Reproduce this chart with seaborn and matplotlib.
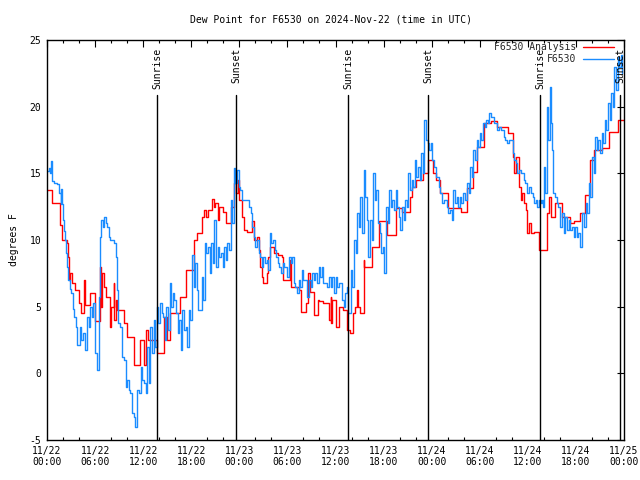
import matplotlib
matplotlib.use("Agg")
import matplotlib.pyplot as plt
import seaborn as sns
import pandas as pd
import numpy as np

# ---------------- data (hours since 2024-11-22 00:00 UTC) ----------------
obs_hours = [0.0, 0.2, 0.4, 0.5, 0.6, 0.9, 1.25, 1.5, 1.7, 1.8, 1.9, 2.0, 2.1, 2.25, 2.4, 2.5, 2.6, 2.75, 2.85,
             3.0, 3.2, 3.4, 3.6, 3.75, 4.1, 4.3, 4.5, 4.7, 5.0, 5.2, 5.4, 5.6, 5.8, 6.05, 6.25, 6.55, 6.65, 6.8,
             7.0, 7.1, 7.3, 7.5, 7.7, 7.9, 8.3, 8.6, 8.75, 8.9, 9.15, 9.35, 9.6, 9.8, 10.0, 10.2, 10.4, 10.6,
             10.8, 11.0, 11.25, 11.5, 11.7, 11.9, 12.1, 12.3,
             12.5, 12.7, 12.9, 13.1, 13.3, 13.5, 13.7, 13.9, 14.1, 14.3, 14.5, 14.7, 14.9, 15.1, 15.3, 15.5,
             15.7, 15.9, 16.1, 16.3, 16.5, 16.7, 16.9, 17.1, 17.3, 17.5, 17.7, 17.9, 18.1, 18.3, 18.5, 18.7,
             18.9, 19.3, 19.5, 19.7, 19.9, 20.1, 20.3, 20.5, 20.7, 20.9, 21.1, 21.3, 21.5, 21.7, 21.9, 22.1,
             22.3, 22.5, 22.7, 22.9, 23.1, 23.3, 23.5, 23.7, 23.9, 24.1, 24.3,
             25.0, 25.2, 25.4, 25.6, 25.8, 26.0, 26.2, 26.4, 26.6, 26.8, 27.0, 27.2, 27.4, 27.6, 27.8, 28.0,
             28.2, 28.4, 28.6, 28.8, 29.0, 29.2, 29.4, 29.6, 29.8, 30.0, 30.2, 30.4, 30.6, 30.8, 31.0, 31.2,
             31.4, 31.6, 31.8, 32.0, 32.2, 32.4, 32.7, 32.9, 33.1, 33.3, 33.5, 33.7, 33.9, 34.1, 34.3, 34.5,
             34.7, 34.9, 35.2, 35.4, 35.6, 35.8, 36.0, 36.2, 36.4, 36.8, 37.0,
             37.2, 37.45, 37.6, 37.9, 38.1, 38.3, 38.5, 38.7, 38.9, 39.1, 39.3, 39.5, 39.7, 39.9, 40.1, 40.3,
             40.5, 40.7, 40.9, 41.1, 41.3, 41.5, 41.7, 41.9, 42.1, 42.3, 42.5, 42.7, 42.9, 43.1, 43.3, 43.5,
             43.7, 43.9, 44.1, 44.3, 44.5, 44.7, 44.9, 45.1, 45.3, 45.5, 45.7, 45.9, 46.1, 46.3, 46.5, 46.7,
             46.9, 47.1, 47.3, 47.5, 47.7, 47.9, 48.1, 48.3, 48.5, 48.7, 48.9, 49.1, 49.3,
             49.6, 49.9, 50.1, 50.3, 50.5, 50.7, 50.9, 51.1, 51.3, 51.5, 51.7, 51.9, 52.2, 52.4, 52.6, 52.8,
             53.0, 53.2, 53.4, 53.6, 53.8, 54.0, 54.2, 54.4, 54.6, 54.8, 55.0, 55.2, 55.4, 55.6, 55.8, 56.0,
             56.2, 56.4, 56.6, 56.8, 57.0, 57.2, 57.4, 57.7, 58.1, 58.3, 58.5, 58.7, 58.9, 59.1, 59.3, 59.5,
             59.7, 59.9, 60.2, 60.4, 60.6, 60.8, 61.0, 61.2, 61.4, 61.6,
             61.8, 61.95, 62.0, 62.2, 62.35, 62.5, 62.8, 62.9, 63.0, 63.2, 63.4, 63.6, 63.8, 64.0, 64.3, 64.5,
             64.7, 64.9, 65.1, 65.3, 65.5, 65.7, 65.9, 66.1, 66.3, 66.5, 66.8, 67.0, 67.2, 67.4, 67.6, 67.8,
             68.0, 68.2, 68.4, 68.6, 68.8, 69.0, 69.2, 69.4, 69.6, 69.8, 70.0, 70.2, 70.4, 70.6, 70.8, 71.0,
             71.2, 71.4, 71.6, 71.8]
obs_dewpt = [15.2, 15.4, 15.0, 15.9, 14.4, 14.3, 14.2, 13.5, 12.7, 13.8, 12.7, 11.5, 10.7, 10.0, 9.0, 8.0, 7.0, 7.0, 6.3,
             6.0, 4.8, 4.2, 3.5, 2.1, 3.5, 2.5, 3.0, 1.75, 4.2, 3.5, 5.0, 4.2, 5.25, 1.5, 0.25, 5.75, 10.25, 11.5,
             11.0, 11.75, 11.25, 11.0, 10.25, 10.0, 9.75, 8.75, 6.25, 3.75, 3.5, 1.25, 1.0, -1.0, -0.5, -1.25, -1.5, -3.0,
             -3.25, -4.0, -1.25, -1.5, 0.5, -0.5, -0.75, -1.5,
             2.0, -0.75, 3.5, 1.5, 4.0, 2.0, 5.0, 3.75, 5.25, 4.5, 4.25, 2.5, 5.0, 3.25, 6.75, 5.0,
             6.0, 5.5, 4.5, 3.0, 4.0, 1.75, 4.75, 3.25, 3.5, 2.0, 4.75, 4.0, 8.9, 6.5, 8.25, 6.25,
             4.75, 7.25, 5.5, 9.75, 9.0, 9.5, 7.5, 9.75, 8.25, 11.5, 8.0, 9.5, 8.75, 9.0, 8.0, 9.5,
             8.5, 9.75, 9.25, 13.0, 11.25, 15.4, 14.25, 15.25, 14.0, 13.75, 13.0,
             13.0, 12.5, 12.0, 11.0, 10.25, 9.5, 10.0, 9.0, 8.75, 8.0, 8.75, 8.25, 8.5, 7.75, 10.5, 9.75,
             10.0, 9.25, 8.75, 8.25, 8.0, 7.5, 8.25, 8.0, 8.0, 7.25, 8.75, 8.25, 8.75, 6.75, 6.5, 6.0,
             7.0, 6.5, 7.75, 7.0, 7.0, 5.75, 7.0, 6.5, 7.5, 7.0, 7.5, 6.75, 8.0, 7.25, 8.0, 6.75,
             6.75, 6.5, 7.25, 6.5, 7.25, 6.0, 7.25, 6.5, 6.75, 5.5, 5.0,
             6.0, 6.5, 4.5, 7.75, 6.5, 10.0, 9.0, 12.0, 11.0, 13.25, 10.5, 15.25, 13.25, 11.5, 8.75, 11.5,
             10.0, 15.0, 13.0, 13.75, 11.25, 10.5, 9.0, 9.5, 7.5, 12.5, 11.25, 13.75, 12.5, 13.0, 12.25, 13.75,
             12.5, 11.75, 10.75, 12.5, 11.5, 13.0, 12.5, 15.0, 13.75, 14.5, 14.0, 16.0, 14.75, 15.5, 14.5, 16.5,
             15.0, 19.0, 17.5, 17.25, 16.75, 17.25, 16.0, 15.5, 14.75, 14.75, 14.0, 13.5, 12.75,
             13.0, 12.5, 12.0, 12.25, 11.5, 13.75, 12.75, 13.25, 12.5, 13.25, 12.75, 13.5, 13.0, 14.25, 13.5, 15.5,
             14.75, 16.75, 16.0, 17.5, 17.0, 18.0, 17.5, 18.75, 18.5, 19.0, 18.75, 19.5, 19.25, 19.25, 18.75, 18.75,
             18.25, 18.5, 18.25, 18.25, 17.75, 17.5, 17.25, 17.5, 16.5, 16.0, 15.75, 15.0, 15.25, 15.0, 15.0, 14.5,
             14.25, 13.5, 14.0, 13.5, 13.25, 12.75, 13.0, 12.5, 13.0, 12.75,
             13.0, 12.5, 15.5, 13.5, 20.0, 17.5, 21.5, 18.75, 16.75, 13.5, 13.25, 12.75, 12.5, 11.0, 12.0, 10.5,
             11.75, 10.75, 11.5, 10.75, 11.0, 10.25, 11.0, 10.25, 10.5, 9.5, 12.0, 11.0, 12.75, 12.0, 14.25, 13.25,
             16.25, 15.0, 17.75, 16.75, 17.5, 16.5, 18.0, 17.25, 19.0, 18.25, 20.25, 19.0, 21.0, 20.0, 23.0, 21.25,
             23.75, 23.0, 23.9, 22.5]

ana_hours = [0.0, 0.6, 1.65, 1.85, 2.5, 2.6, 2.7, 2.8, 2.9, 3.1, 3.5, 3.95, 4.2, 4.6, 4.7, 5.4, 6.05, 6.65,
             6.8, 6.9, 7.1, 7.4, 7.9, 8.0, 8.3, 8.4, 8.6, 8.75, 9.6, 10.0, 10.85, 11.65, 12.1, 12.4, 12.6,
             13.7, 14.6, 14.95, 15.4, 16.6, 17.4, 18.3, 18.7, 19.3, 19.6, 19.9, 20.1, 20.6, 20.8, 21.0, 21.3,
             21.5, 22.0, 22.3, 23.0, 23.3, 23.6, 23.8, 24.0, 24.3, 24.6, 25.0, 25.6, 25.8, 26.2, 26.5, 26.6,
             26.8, 27.0, 27.45, 27.6, 27.8, 28.3, 28.8, 29.3, 29.5, 30.3, 30.4, 31.4, 31.7, 32.3, 32.6, 32.8,
             33.3, 33.8, 34.0, 34.5, 35.2, 35.4, 35.5, 35.6, 36.1, 36.4, 36.9, 37.4, 37.8, 38.2, 38.4, 38.7,
             38.8, 39.1, 39.5, 39.6, 40.4, 40.6, 41.4, 42.4, 43.5, 44.3, 45.3, 45.6, 46.1, 46.9, 47.6, 48.2,
             48.6, 49.0, 49.8, 50.1, 51.6, 52.4, 53.2, 53.7, 54.5, 55.4, 56.1, 57.5, 58.2, 58.3, 58.5, 58.9,
             59.1, 59.3, 59.5, 59.8, 59.95, 60.2, 60.4, 60.8, 61.4, 62.4, 62.6, 62.9, 63.4, 64.3, 65.3, 65.7,
             66.5, 67.1, 67.7, 68.3, 69.3, 70.1, 71.3, 72.0]
ana_dewpt = [13.75, 12.75, 11.1, 10.0, 9.75, 8.75, 8.0, 7.0, 7.5, 6.75, 6.25, 5.25, 4.5, 7.0, 5.1, 6.0, 3.9, 8.0,
             5.0, 7.5, 6.5, 5.75, 3.5, 5.0, 6.8, 4.0, 5.5, 4.75, 3.75, 2.75, 0.6, 2.5, 0.6, 3.25, 2.5,
             1.5, 4.25, 2.5, 4.5, 5.75, 7.75, 10.0, 10.5, 11.75, 12.25, 11.75, 12.25, 13.1, 12.5, 12.75, 11.5,
             12.5, 12.1, 11.25, 12.5, 14.25, 13.5, 14.5, 13.0, 11.75, 10.75, 10.6, 11.4, 10.0, 10.25, 9.25, 8.0,
             7.25, 6.75, 7.5, 8.75, 9.5, 9.0, 8.9, 8.75, 7.0, 8.5, 6.5, 6.25, 4.6, 5.25, 7.5, 6.1,
             4.4, 5.5, 5.4, 5.25, 4.0, 5.75, 3.75, 5.5, 3.5, 5.0, 4.75, 3.25, 3.0, 4.5, 5.0, 6.25,
             5.0, 4.5, 8.5, 8.0, 8.0, 9.5, 11.4, 10.4, 12.4, 12.1, 13.25, 14.0, 14.5, 15.0, 16.0, 15.0,
             14.5, 13.5, 13.5, 12.4, 12.1, 13.9, 15.1, 17.0, 18.75, 18.9, 18.5, 18.0, 16.25, 15.0, 16.25, 14.0,
             13.0, 13.5, 12.75, 12.25, 10.5, 11.25, 10.5, 10.6, 9.25, 12.0, 13.25, 11.75, 12.75, 11.75, 11.25, 11.4,
             12.0, 13.4, 16.0, 16.75, 16.9, 18.1, 19.0, 19.0]

sun_hours = [13.73, 23.6, 37.6, 47.56, 61.55, 71.5]
sun_labels = ["Sunrise", "Sunset", "Sunrise", "Sunset", "Sunrise", "Sunset"]

tick_hours = list(range(0, 73, 6))
tick_labels = ["11/22\n00:00", "11/22\n06:00", "11/22\n12:00", "11/22\n18:00",
               "11/23\n00:00", "11/23\n06:00", "11/23\n12:00", "11/23\n18:00",
               "11/24\n00:00", "11/24\n06:00", "11/24\n12:00", "11/24\n18:00",
               "11/25\n00:00"]

title = "Dew Point for F6530 on 2024-Nov-22 (time in UTC)"

# ---------------- plotting ----------------
sns.set_theme(style="white")
plt.rcParams["font.family"] = ["DejaVu Sans Mono", "DejaVu Sans"]
FS = 7

fig = plt.figure(figsize=(6.4, 4.8), dpi=100)
ax = fig.add_axes([47 / 640, 40 / 480, 577 / 640, 400 / 480])

df_ana = pd.DataFrame({"hour": ana_hours, "dewpt": ana_dewpt})
df_obs = pd.DataFrame({"hour": obs_hours, "dewpt": obs_dewpt})

sns.lineplot(data=df_ana, x="hour", y="dewpt", ax=ax, color="#ff0000", lw=1.0,
             drawstyle="steps-post", estimator=None, label="F6530 Analysis")
sns.lineplot(data=df_obs, x="hour", y="dewpt", ax=ax, color="#1a8cff", lw=1.0,
             drawstyle="steps-post", estimator=None, label="F6530")

for h, lab in zip(sun_hours, sun_labels):
    ax.plot([h, h], [-5, 20.9], color="black", lw=1.0)
    ax.text(h, 24.4, lab, rotation=90, ha="center", va="top", fontsize=FS, color="black")

ax.set_xlim(0, 72)
ax.set_ylim(-5, 25)
ax.set_xticks(tick_hours)
ax.set_xticklabels(tick_labels, fontsize=FS)
ax.set_xticks(np.arange(0, 73, 2), minor=True)
ax.set_yticks([-5, 0, 5, 10, 15, 20, 25])
ax.set_yticklabels(["-5", "0", "5", "10", "15", "20", "25"], fontsize=FS)
ax.tick_params(axis="both", which="major", direction="in", length=5, width=0.8,
               top=True, right=True, color="black", pad=4, labelcolor="black")
ax.tick_params(axis="x", which="minor", direction="in", length=2.5, width=0.8,
               top=True, bottom=True, color="black")
for sp in ax.spines.values():
    sp.set_color("black")
    sp.set_linewidth(1.0)

ax.set_xlabel("")
ax.set_ylabel("degrees F", fontsize=FS, color="black", labelpad=8)
fig.text(331 / 640, 1 - 19 / 480, title, ha="center", va="center", fontsize=FS, color="black")

leg = ax.legend(loc="upper right", bbox_to_anchor=(0.982, 0.995), frameon=False,
                markerfirst=False, fontsize=FS, handlelength=3.2, handletextpad=0.6,
                labelspacing=0.25, borderpad=0, borderaxespad=0)

fig.savefig("out.png", dpi=100)
